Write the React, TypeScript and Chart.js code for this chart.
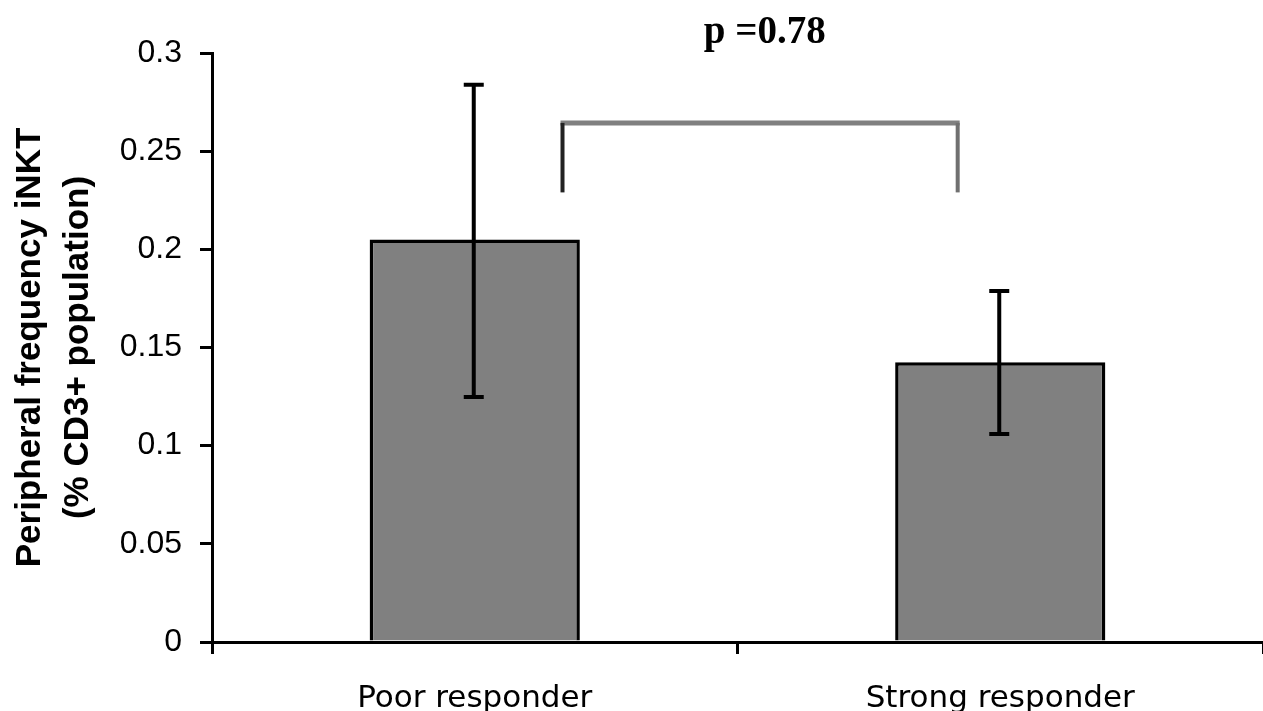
import React, { useEffect, useRef } from 'react';
import { Chart, registerables } from 'chart.js';

Chart.register(...registerables);

const categories = ['Poor responder', 'Strong responder'];
const means = [0.205, 0.1425];
const errLow = [0.1248, 0.106];
const errHigh = [0.2838, 0.1788];
const yTickLabels = ['0', '0.05', '0.1', '0.15', '0.2', '0.25', '0.3'];
const yTitle = ['Peripheral frequency iNKT', '(% CD3+ population)'];
const pLabel = 'p =0.78';
const bracketX = [0.167, 0.919];
const bracketTop = 0.2644;
const bracketBottom = 0.229;
const pLabelPos = [0.552, 0.305];

const overlay = {
  id: 'overlay',
  afterDatasetsDraw(chart: any) {
    const ctx = chart.ctx;
    const xs = chart.scales.x;
    const ys = chart.scales.y;
    ctx.save();
    // error bars
    ctx.strokeStyle = '#000';
    ctx.lineWidth = 4;
    ctx.lineCap = 'butt';
    means.forEach((_m, i) => {
      const px = xs.getPixelForValue(i) - 1;
      const yl = ys.getPixelForValue(errLow[i]);
      const yh = ys.getPixelForValue(errHigh[i]);
      ctx.beginPath();
      ctx.moveTo(px, yl);
      ctx.lineTo(px, yh);
      ctx.moveTo(px - 10, yh);
      ctx.lineTo(px + 10, yh);
      ctx.moveTo(px - 10, yl);
      ctx.lineTo(px + 10, yl);
      ctx.stroke();
    });
    // bracket
    const bx0 = xs.getPixelForValue(bracketX[0]);
    const bx1 = xs.getPixelForValue(bracketX[1]);
    const by0 = ys.getPixelForValue(bracketTop);
    const by1 = ys.getPixelForValue(bracketBottom);
    ctx.strokeStyle = '#808080';
    ctx.lineWidth = 5;
    ctx.beginPath();
    ctx.moveTo(bx0 - 2, by0);
    ctx.lineTo(bx1 + 2, by0);
    ctx.stroke();
    ctx.lineWidth = 4;
    ctx.strokeStyle = '#222';
    ctx.beginPath();
    ctx.moveTo(bx0, by0);
    ctx.lineTo(bx0, by1);
    ctx.stroke();
    ctx.strokeStyle = '#707070';
    ctx.beginPath();
    ctx.moveTo(bx1, by0);
    ctx.lineTo(bx1, by1);
    ctx.stroke();
    // p label
    ctx.fillStyle = '#000';
    ctx.font = 'bold 39px "Liberation Serif", "Times New Roman", serif';
    ctx.textAlign = 'center';
    ctx.textBaseline = 'alphabetic';
    ctx.fillText(pLabel, xs.getPixelForValue(pLabelPos[0]), ys.getPixelForValue(pLabelPos[1]));
    ctx.restore();
  },
};

export default function App() {
  const ref = useRef<HTMLCanvasElement | null>(null);
  useEffect(() => {
    if (!ref.current) return;
    const chart = new Chart(ref.current, {
      type: 'bar',
      data: {
        labels: categories,
        datasets: [
          {
            data: means,
            backgroundColor: '#808080',
            borderColor: '#000',
            borderWidth: 3.5,
            categoryPercentage: 1,
            barPercentage: 0.4,
          },
        ],
      },
      options: {
        responsive: false,
        animation: false,
        devicePixelRatio: 1,
        layout: { padding: { top: 53, left: 0, right: 0, bottom: 0 } },
        plugins: { legend: { display: false }, tooltip: { enabled: false }, title: { display: false } },
        scales: {
          x: {
            type: 'category',
            grid: { display: true, drawOnChartArea: false, offset: true, color: '#000', lineWidth: 3, tickLength: 12 },
            border: { display: true, color: '#000', width: 3 },
            ticks: {
              color: '#000',
              padding: 26,
              maxRotation: 0,
              autoSkip: false,
              font: { family: '"DejaVu Sans", sans-serif', size: 31 },
            },
            afterFit: (s: any) => {
              s.height = 69;
            },
          },
          y: {
            min: 0,
            max: 0.3,
            grid: { display: true, drawOnChartArea: false, color: '#000', lineWidth: 3, tickLength: 12 },
            border: { display: true, color: '#000', width: 3 },
            ticks: {
              stepSize: 0.05,
              color: '#000',
              padding: 18,
              font: { family: '"Liberation Sans", Arial, sans-serif', size: 32 },
              callback: (_v: any, i: number) => yTickLabels[i],
            },
            title: {
              display: true,
              text: yTitle,
              color: '#000',
              padding: { top: 6, bottom: 0 },
              font: { family: '"Liberation Sans", Arial, sans-serif', size: 35, weight: 'bold', lineHeight: 1.371 },
            },
            afterFit: (s: any) => {
              s.width = 212;
            },
          },
        },
      },
      plugins: [overlay],
    });
    return () => chart.destroy();
  }, []);
  return (
    <div style={{ position: 'fixed', left: 0, top: 0, width: 1263, height: 711, background: '#fff' }}>
      <canvas ref={ref} width={1263} height={711} style={{ display: 'block' }} />
    </div>
  );
}
